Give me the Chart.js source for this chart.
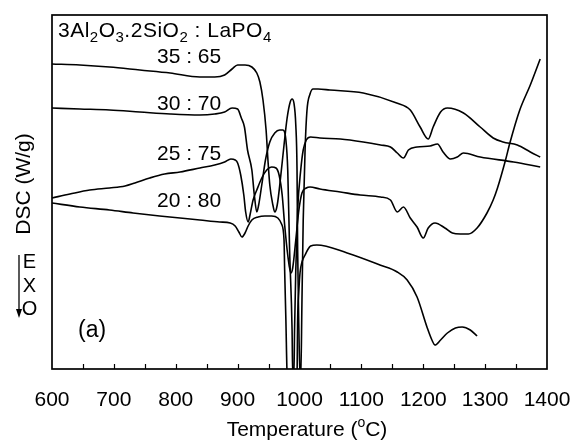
<!DOCTYPE html>
<html><head><meta charset="utf-8">
<script src="https://cdn.jsdelivr.net/npm/chart.js@4.4.0/dist/chart.umd.min.js"></script>
<style>html,body{margin:0;padding:0;background:#fff}canvas{display:block}</style>
</head><body>
<canvas id="c" width="572" height="443"></canvas>
<script>
// Temperature (°C) and DSC signal (arbitrary units, offset curves)
const t3565 = [600,645,693,742,791,839,863,879,891,900,912,923,931,936,941,946,949,952,957,960,964,969,975,980,985,988,991,994,996,997,999,1001,1002,1004,1006,1009,1012,1017,1022,1030,1049,1103,1157,1179,1195,1208,1216,1228,1239,1265,1292,1313,1329,1352,1373,1389];
const v3565 = [305,304,302,299,296,292,292,294,300,304,304,302,296,287,269,239,209,184,164,157,164,189,224,251,267,270,266,244,199,119,39,-10,-10,69,149,219,258,275,280,280,279,276,266,259,242,230,242,257,261,256,242,231,227,224,217,212];

const t3070 = [600,645,693,742,791,839,863,879,891,900,906,911,916,923,927,931,934,939,945,952,960,968,973,978,981,984,988,989,991,992,994,997,1002,1006,1011,1018,1033,1066,1103,1131,1147,1158,1168,1176,1190,1211,1223,1232,1244,1255,1265,1292,1346,1389];
const v3070 = [261,260,259,257,255,254,255,257,261,260,251,242,219,199,174,157,164,184,209,227,236,239,239,229,199,119,39,-6,-6,39,99,159,199,219,229,232,231,230,227,224,222,216,211,219,222,223,225,217,210,212,216,212,207,202];

const t2575 = [600,629,661,693,718,734,758,782,807,839,863,879,889,896,900,905,910,913,917,920,925,931,939,947,955,962,967,972,976,981,986,989,994,999,1004,1011,1017,1033,1066,1098,1131,1147,1158,1168,1179,1190,1200,1208,1219,1235,1247,1260,1273,1287,1303,1313,1320,1333,1340,1356,1373,1389];
const v2575 = [171,175,179,181,183,186,191,195,197,201,204,207,210,209,206,194,174,157,147,154,169,179,191,199,202,201,194,174,144,114,96,101,129,159,176,181,182,180,177,174,172,169,157,162,151,142,131,141,146,141,136,135,135,141,156,169,181,209,226,259,284,310];

const t2080 = [600,645,693,731,774,839,871,888,896,902,907,912,917,923,933,944,955,965,971,975,976,978,980,981,994,996,997,999,1001,1004,1009,1014,1018,1028,1077,1130,1158,1174,1190,1206,1214,1219,1228,1239,1252,1263,1276,1287];
const v2080 = [166,162,159,156,153,149,147,146,143,137,132,136,143,149,152,153,153,151,145,129,99,49,-6,-10,-10,-6,49,79,97,107,114,120,123,124,116,104,97,89,72,42,29,24,29,36,41,42,39,33];

const seriesNames = ['35 : 65','30 : 70','25 : 75','20 : 80'];
const xMin = 600, xMax = 1400, xStep = 50, xLabelStep = 100;

const FONT = '"Liberation Sans", Arial, Helvetica, sans-serif';
const zip = (t, v) => t.map((x, i) => ({x, y: v[i]}));
const mk = (name, t, v) => ({
  label: name, data: zip(t, v), borderColor: '#000', borderWidth: 1.6,
  pointRadius: 0, fill: false, cubicInterpolationMode: 'monotone'
});

function partsWidth(ctx, parts, size, subR) {
  let w = 0;
  for (const [s, k] of parts) {
    ctx.font = (k === 'n' ? size : Math.round(size * subR)) + 'px ' + FONT;
    w += ctx.measureText(s).width;
  }
  return w;
}
function rich(ctx, parts, x, y, size, subR = 0.68) {
  let cx = x;
  for (const [s, k] of parts) {
    const fs = k === 'n' ? size : Math.round(size * subR);
    ctx.font = fs + 'px ' + FONT;
    const dy = k === 'sub' ? size * 0.25 : k === 'sup' ? -size * 0.42 : 0;
    ctx.fillText(s, cx, y + dy);
    cx += ctx.measureText(s).width;
  }
}

const deco = {
  id: 'deco',
  afterDraw(chart) {
    const ctx = chart.ctx, a = chart.chartArea, xs = chart.scales.x;
    ctx.save();
    ctx.strokeStyle = '#000'; ctx.fillStyle = '#000';
    ctx.lineWidth = 1.7;
    ctx.strokeRect(a.left, a.top, a.right - a.left, a.bottom - a.top);
    ctx.lineWidth = 1.2;
    xs.ticks.forEach(t => {
      if (t.value <= xMin || t.value >= xMax) return;
      const px = Math.round(xs.getPixelForValue(t.value)) + 0.5;
      ctx.beginPath(); ctx.moveTo(px, a.bottom); ctx.lineTo(px, a.bottom - 5); ctx.stroke();
    });
    ctx.textBaseline = 'alphabetic'; ctx.textAlign = 'left';
    const S = 21;
    if ('letterSpacing' in ctx) ctx.letterSpacing = '0.5px';
    rich(ctx, [['3Al','n'],['2','sub'],['O','n'],['3','sub'],['.2SiO','n'],['2','sub'],[' : LaPO','n'],['4','sub']], a.left + 6, a.top + 22, S, 0.72);
    if ('letterSpacing' in ctx) ctx.letterSpacing = '0px';
    const lblY = [63, 110, 160, 207];
    seriesNames.forEach((n, i) => rich(ctx, [[n, 'n']], 157, lblY[i], S));
    rich(ctx, [['(a)','n']], 78, 337, 23);
    // x title
    const xt = [['Temperature (','n'],['o','sup'],['C)','n']];
    const w = partsWidth(ctx, xt, S, 0.68);
    rich(ctx, xt, 307 - w / 2, 436, S);
    // y title
    ctx.save();
    ctx.translate(30, 184); ctx.rotate(-Math.PI / 2);
    ctx.font = S + 'px ' + FONT; ctx.textAlign = 'center';
    ctx.fillText('DSC (W/g)', 0, 0);
    ctx.restore();
    // EXO arrow
    ctx.font = '20px ' + FONT; ctx.textAlign = 'center';
    ctx.fillText('E', 29.5, 268); ctx.fillText('X', 29.5, 292); ctx.fillText('O', 29.5, 315);
    ctx.lineWidth = 1.3;
    ctx.beginPath(); ctx.moveTo(19, 255); ctx.lineTo(19, 311); ctx.stroke();
    ctx.beginPath(); ctx.moveTo(16, 309); ctx.lineTo(22, 309); ctx.lineTo(19, 318); ctx.closePath(); ctx.fill();
    ctx.restore();
  }
};

new Chart(document.getElementById('c'), {
  type: 'line',
  data: { datasets: [mk(seriesNames[0], t3565, v3565), mk(seriesNames[1], t3070, v3070), mk(seriesNames[2], t2575, v2575), mk(seriesNames[3], t2080, v2080)] },
  options: {
    responsive: false, animation: false, devicePixelRatio: 1,
    layout: { padding: { left: 52, right: 25, top: 15, bottom: 0 } },
    plugins: { legend: { display: false }, tooltip: { enabled: false } },
    scales: {
      x: {
        type: 'linear', min: xMin, max: xMax, position: 'bottom',
        border: { display: false }, grid: { display: false },
        ticks: {
          stepSize: xStep, autoSkip: false, maxRotation: 0, color: '#000', padding: 11,
          font: { family: FONT, size: 21 },
          callback: v => (v % xLabelStep === 0 ? String(v) : '')
        },
        afterFit: s => { s.height = 74; s.paddingLeft = 0; s.paddingRight = 0; }
      },
      y: { display: false, min: 0, max: 354 }
    }
  },
  plugins: [deco]
});
</script>
</body></html>
